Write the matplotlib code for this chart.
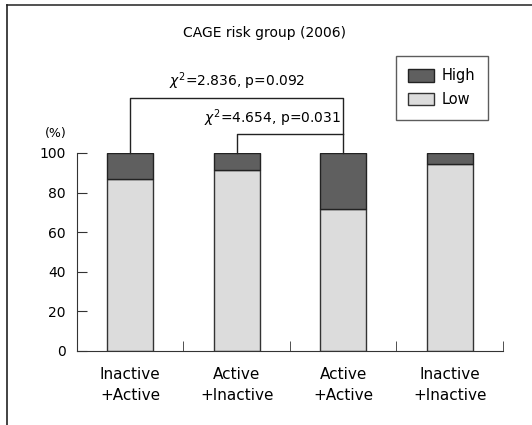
import matplotlib.pyplot as plt
from matplotlib.patches import Patch
from matplotlib.lines import Line2D

# Data
groups = ['Inactive\n+Active', 'Active\n+Inactive', 'Active\n+Active', 'Inactive\n+Inactive']
low = [87.0, 91.2, 71.5, 94.3]
high = [100 - v for v in low]
stat_outer = r'$\chi^2$=2.836, p=0.092'
stat_inner = r'$\chi^2$=4.654, p=0.031'

plt.rcParams['font.family'] = ['DejaVu Sans']
plt.rcParams['mathtext.fontset'] = 'dejavusans'

fig = plt.figure(figsize=(5.32, 4.25), dpi=100)
ax = fig.add_axes([0.1447, 0.1748, 0.8008, 0.4652])

x = range(len(groups))
ax.bar(x, low, width=0.43, color='#dcdcdc', edgecolor='#333333', linewidth=1, label='Low')
ax.bar(x, high, width=0.43, bottom=low, color='#5f5f5f', edgecolor='#222222', linewidth=1, label='High')

ax.set_xlim(-0.5, 3.5)
ax.set_ylim(0, 100)
ax.set_yticks([0, 20, 40, 60, 80, 100])
ax.set_xticks([0, 1, 2, 3])
ax.set_xticklabels(groups, fontsize=11, linespacing=1.5)
ax.set_xticks([0.5, 1.5, 2.5, 3.5], minor=True)
ax.tick_params(axis='x', which='major', length=0, pad=12)
ax.tick_params(axis='x', which='minor', direction='in', length=7, color='#333333')
ax.tick_params(axis='y', direction='in', length=7, labelsize=10, pad=8, color='#333333')
for side in ['top', 'right']:
    ax.spines[side].set_visible(False)
for side in ['left', 'bottom']:
    ax.spines[side].set_color('#333333')

ax.text(-0.594, 110, '(%)', ha='right', va='center', fontsize=9)

# significance brackets
ax.plot([0, 0, 2, 2], [100, 127.8, 127.8, 100], color='#222222', lw=1, clip_on=False)
ax.plot([1, 1, 2], [100, 109.6, 109.6], color='#222222', lw=1, clip_on=False)
ax.text(1.0, 131, stat_outer, ha='center', va='bottom', fontsize=10)
ax.text(1.98, 112, stat_inner, ha='right', va='bottom', fontsize=10)

fig.text(0.498, 0.922, 'CAGE risk group (2006)', ha='center', va='center', fontsize=10)

handles = [Patch(facecolor='#5f5f5f', edgecolor='#222222', label='High'),
           Patch(facecolor='#dcdcdc', edgecolor='#333333', label='Low')]
fig.legend(handles=handles, loc='upper left', bbox_to_anchor=(0.744, 0.868),
           frameon=True, fancybox=False, edgecolor='#333333', fontsize=10.5,
           handlelength=1.8, handleheight=0.9, borderpad=0.85, labelspacing=0.6,
           borderaxespad=0, handletextpad=0.5)

# outer frame lines
fig.add_artist(Line2D([7 / 532, 1], [1 - 5 / 425, 1 - 5 / 425], color='#333333', lw=1.2))
fig.add_artist(Line2D([7 / 532, 7 / 532], [0, 1 - 5 / 425], color='#222222', lw=1.2))

fig.savefig('out.png', dpi=100)
